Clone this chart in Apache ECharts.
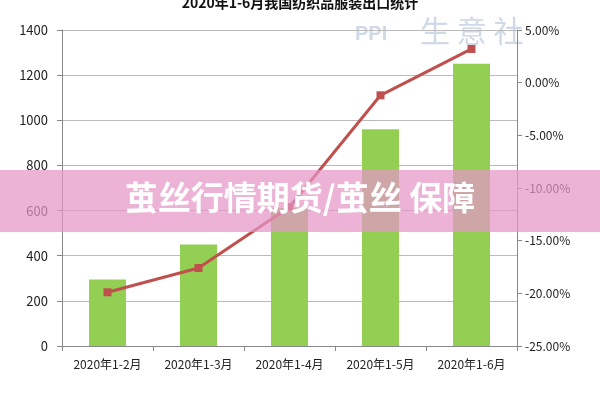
<!DOCTYPE html>
<html><head><meta charset="utf-8">
<script src="https://cdn.jsdelivr.net/npm/echarts@6/dist/echarts.min.js"></script>
<style>body{margin:0;background:#fff}#c{width:600px;height:400px}</style>
</head><body><div id="c"></div>
<script>
const categories=['2020年1-2月','2020年1-3月','2020年1-4月','2020年1-5月','2020年1-6月'];
const barValues=[295,450,610,960,1250];
const growth=[-19.9,-17.6,-11.8,-1.2,3.2];
const chart=echarts.init(document.getElementById('c'));
const f='"Noto Sans CJK SC", sans-serif';
chart.setOption({
 animation:false,
 title:{text:'2020年1-6月我国纺织品服装出口统计',left:'center',top:-9,textStyle:{fontSize:14,fontWeight:'bold',color:'#111',fontFamily:f}},
 grid:{left:62,right:83,top:30,bottom:54},
 xAxis:{type:'category',data:categories,axisLine:{lineStyle:{color:'#888'}},axisTick:{show:true,lineStyle:{color:'#888'}},axisLabel:{color:'#222',fontSize:12,fontFamily:f,margin:12}},
 yAxis:[{type:'value',min:0,max:1400,interval:200,axisLine:{show:true,lineStyle:{color:'#888'}},axisTick:{show:true},splitLine:{lineStyle:{color:'#bbb'}},axisLabel:{color:'#222',fontSize:13,fontFamily:f,margin:14,formatter:v=>String(v)}},
 {type:'value',min:-25,max:5,interval:5,axisLine:{show:true,lineStyle:{color:'#888'}},axisTick:{show:true},splitLine:{show:false},axisLabel:{color:'#222',fontSize:12,fontFamily:f,formatter:v=>v.toFixed(2)+'%'}}],
 series:[{type:'bar',data:barValues,barWidth:37,itemStyle:{color:'#92cf52'}},
 {type:'line',yAxisIndex:1,data:growth,symbol:'rect',symbolSize:8,lineStyle:{color:'#c0504d',width:3},itemStyle:{color:'#c0504d'}}],
 graphic:[
  {type:'text',left:355,top:24,z:-1,style:{text:'PPI',fontSize:20,fontWeight:'bold',fill:'rgba(160,180,210,0.5)'}},
  {type:'text',left:420,top:16,z:-1,style:{text:'生 意 社',fontSize:30,fill:'rgba(160,180,210,0.5)',fontFamily:f}},
  {type:'rect',z:100,shape:{x:0,y:170,width:600,height:62},style:{fill:'rgba(230,150,200,0.72)'}},
  {type:'text',z:101,left:'center',top:181,style:{text:'茧丝行情期货/茧丝 保障',fontSize:33,fontWeight:'bold',fill:'#fff',fontFamily:f}}
 ]
});
</script></body></html>
